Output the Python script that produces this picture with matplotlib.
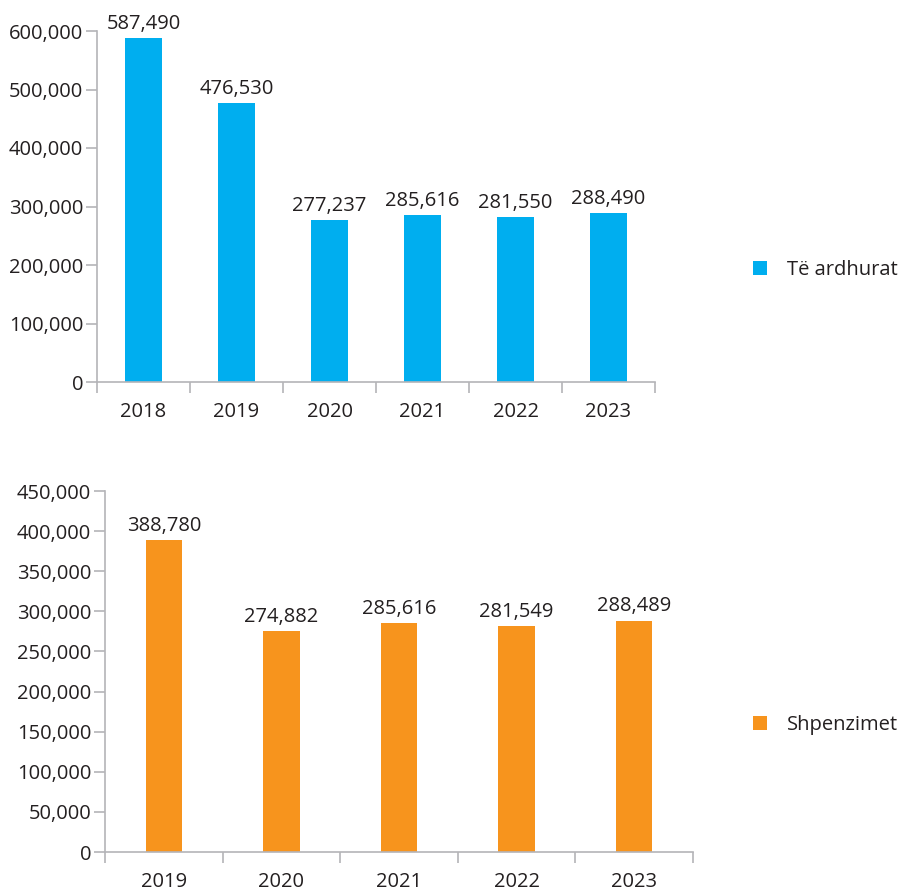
import matplotlib
matplotlib.use("Agg")
import matplotlib.pyplot as plt
from matplotlib.ticker import FuncFormatter, FixedLocator

plt.rcParams['font.family'] = ['Open Sans', 'DejaVu Sans']

years_top = ["2018", "2019", "2020", "2021", "2022", "2023"]
income = [587490, 476530, 277237, 285616, 281550, 288490]
years_bot = ["2019", "2020", "2021", "2022", "2023"]
expenses = [388780, 274882, 285616, 281549, 288489]

BLUE = "#00aeef"
ORANGE = "#f7941d"
TXT = "#231f20"
AX = "#b4b4b8"
FS = 14.5

W, H = 900, 892
fig = plt.figure(figsize=(W/100, H/100), dpi=100)

def make_ax(l, r, t, b):
    return fig.add_axes([l/W, 1-b/H, (r-l)/W, (b-t)/H])

def style(ax, n, ymax, step, label, color, bw, cats, vals, legend_xy):
    x = list(range(n))
    bars = ax.bar(x, vals, width=bw, color=color, label=label, zorder=2)
    ax.set_xlim(-0.5, n-0.5)
    ax.set_ylim(0, ymax)
    ax.set_yticks(list(range(0, ymax+1, step)))
    ax.yaxis.set_major_formatter(FuncFormatter(lambda v, p: f"{int(v):,}"))
    ax.set_xticks(x)
    ax.set_xticklabels(cats)
    ax.xaxis.set_minor_locator(FixedLocator([i-0.5 for i in range(n+1)]))
    ax.tick_params(axis='x', which='major', length=0, pad=14.5, labelsize=FS, labelcolor=TXT)
    ax.tick_params(axis='x', which='minor', length=8, direction='out', color=AX, width=1.2)
    ax.tick_params(axis='y', length=8, direction='out', color=AX, width=1.2, pad=2,
                   labelsize=FS, labelcolor=TXT)
    for s in ['top', 'right']:
        ax.spines[s].set_visible(False)
    for s in ['left', 'bottom']:
        ax.spines[s].set_color(AX)
        ax.spines[s].set_linewidth(1.2)
    ax.bar_label(bars, labels=[f"{v:,}" for v in vals], padding=3, fontsize=FS, color=TXT)
    fig.legend(handles=[bars], labels=[label], loc='center left',
               bbox_to_anchor=(legend_xy[0]/W, 1-legend_xy[1]/H), frameon=False,
               fontsize=FS, handlelength=0.7, handleheight=0.7, handletextpad=1.0,
               labelcolor=TXT, borderpad=0, borderaxespad=0)

ax1 = make_ax(97, 655, 31, 382)
style(ax1, 6, 600000, 100000, "Të ardhurat", BLUE, 0.4, years_top, income, (753, 270))

ax2 = make_ax(105, 693, 491, 852)
style(ax2, 5, 450000, 50000, "Shpenzimet", ORANGE, 0.31, years_bot, expenses, (753, 725))

fig.savefig("out.png", dpi=100)
